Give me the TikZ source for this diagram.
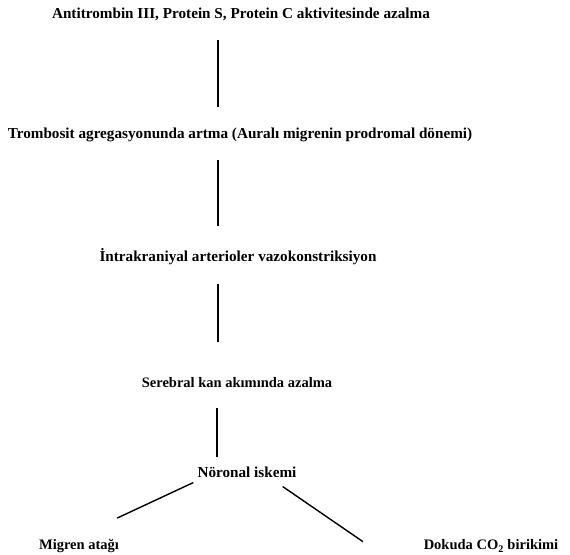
\documentclass[tikz,border=0pt]{standalone}
\usepackage{fontspec}
\setmainfont{Liberation Serif}
\begin{document}
\begin{tikzpicture}[x=1pt,y=-1pt,
  lbl/.style={inner sep=0pt, font=\fontsize{15.2}{18}\selectfont\bfseries},
  lblsm/.style={inner sep=0pt, font=\fontsize{14.5}{17}\selectfont\bfseries},
  conn/.style={line width=1.4pt}]
\useasboundingbox (0,0) rectangle (570,554);
\node[lbl] (t1) at (241,14) {Antitrombin III, Protein S, Protein C aktivitesinde azalma};
\node[lbl] (t2) at (240,135) {Trombosit agregasyonunda artma (Auralı migrenin prodromal dönemi)};
\node[lbl] (t3) at (238,257) {İntrakraniyal arterioler vazokonstriksiyon};
\node[lblsm] (t4) at (237,383) {Serebral kan akımında azalma};
\node[lbl] (t5) at (247,472) {Nöronal iskemi};
\node[lblsm] (t6) at (79,546) {Migren atağı};
\node[lblsm] (t7) at (491,546) {Dokuda CO\textsubscript{2} birikimi};
\coordinate (c1) at (218,0);
\coordinate (c2) at (217,0);
\draw[conn] ([yshift=-19pt]t1.south -| c1) -- ([yshift=21pt]t2.north -| c1);
\draw[conn] ([yshift=-18pt]t2.south -| c1) -- ([yshift=23pt]t3.north -| c1);
\draw[conn] ([yshift=-19pt]t3.south -| c1) -- ([yshift=36pt]t4.north -| c1);
\draw[conn] ([yshift=-20pt]t4.south -| c2) -- ([yshift=9pt]t5.north -| c2);
\draw[conn] ([xshift=-4pt,yshift=-5pt]t5.south west) -- ([xshift=-2pt,yshift=21pt]t6.north east);
\draw[conn] ([xshift=-14pt,yshift=-9pt]t5.south east) -- ([xshift=-128pt,yshift=-2pt]t7.north);
\end{tikzpicture}
\end{document}
